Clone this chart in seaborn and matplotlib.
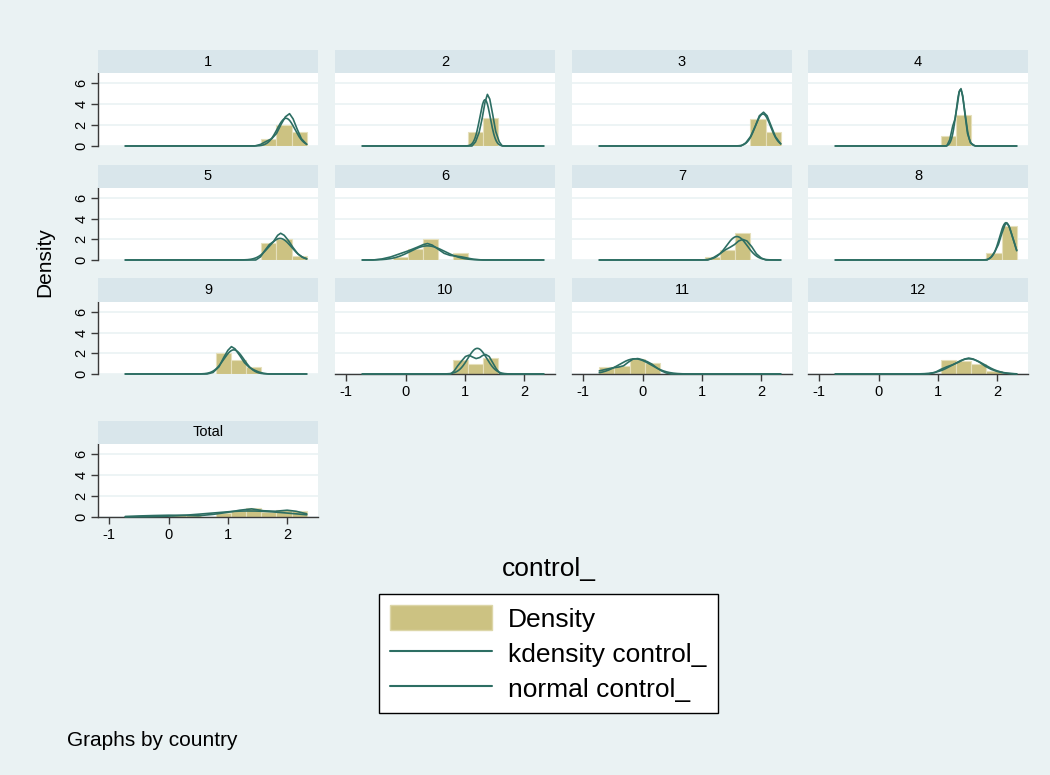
import numpy as np
import pandas as pd
import matplotlib
matplotlib.use("Agg")
import matplotlib.pyplot as plt
import seaborn as sns
from matplotlib.patches import Patch
from matplotlib.lines import Line2D

sns.set_theme(style="white")
plt.rcParams["font.family"] = ["Liberation Sans", "DejaVu Sans"]

# ---------------------------------------------------------------- data
panel_labels = ["1", "2", "3", "4", "5", "6", "7", "8", "9", "10", "11", "12", "Total"]

# common histogram bins for control_
bin_edges = [-0.73, -0.475, -0.22, 0.035, 0.29, 0.545, 0.80,
             1.055, 1.31, 1.565, 1.82, 2.075, 2.33]

# histogram densities per country (one value per bin)
hist_1 = [0, 0, 0, 0, 0, 0, 0, 0, 0, 0.70, 2.00, 1.35]
hist_2 = [0, 0, 0, 0, 0, 0, 0, 1.35, 2.66, 0, 0, 0]
hist_3 = [0, 0, 0, 0, 0, 0, 0, 0, 0, 0, 2.63, 1.35]
hist_4 = [0, 0, 0, 0, 0, 0, 0, 1.00, 2.95, 0, 0, 0]
hist_5 = [0, 0, 0, 0, 0, 0, 0, 0, 0, 1.70, 2.00, 0.35]
hist_6 = [0, 0, 0.25, 1.06, 2.00, 0, 0.70, 0, 0, 0, 0, 0]
hist_7 = [0, 0, 0, 0, 0, 0, 0, 0.30, 1.00, 2.65, 0, 0]
hist_8 = [0, 0, 0, 0, 0, 0, 0, 0, 0, 0, 0.70, 3.27]
hist_9 = [0, 0, 0, 0, 0, 0, 2.00, 1.35, 0.64, 0, 0, 0]
hist_10 = [0, 0, 0, 0, 0, 0, 1.35, 0.96, 1.60, 0, 0, 0]
hist_11 = [0.70, 0.75, 1.45, 1.05, 0, 0, 0, 0, 0, 0, 0, 0]
hist_12 = [0, 0, 0, 0, 0, 0, 0, 1.40, 1.25, 1.00, 0.27, 0]
hist_total = [0.06, 0.06, 0.14, 0.18, 0.17, 0, 0.34, 0.53, 0.84, 0.50, 0.63, 0.53]

# kernel density estimates (x, density)
kde_1_x = [-0.73, 1.45, 1.55, 1.65, 1.74, 1.82, 1.90, 1.97, 2.04, 2.10, 2.17, 2.24, 2.33]
kde_1_y = [0, 0, 0.15, 0.45, 0.70, 1.20, 2.10, 2.80, 3.10, 2.60, 1.60, 0.70, 0.15]
kde_2_x = [-0.73, 1.12, 1.18, 1.24, 1.29, 1.34, 1.38, 1.42, 1.47, 1.52, 1.58, 1.63, 2.33]
kde_2_y = [0, 0, 0.40, 1.30, 2.60, 4.20, 4.95, 4.50, 3.00, 1.40, 0.40, 0, 0]
kde_3_x = [-0.73, 1.66, 1.74, 1.82, 1.90, 1.97, 2.04, 2.10, 2.17, 2.24, 2.33]
kde_3_y = [0, 0, 0.30, 0.90, 1.90, 2.90, 3.24, 2.90, 1.90, 0.90, 0.20]
kde_4_x = [-0.73, 1.15, 1.20, 1.25, 1.29, 1.33, 1.36, 1.39, 1.42, 1.46, 1.50, 1.55, 1.63, 2.33]
kde_4_y = [0, 0, 0.60, 1.90, 2.60, 4.00, 5.20, 5.50, 4.80, 2.90, 1.20, 0.30, 0, 0]
kde_5_x = [-0.73, 1.47, 1.55, 1.62, 1.70, 1.77, 1.84, 1.89, 1.95, 2.02, 2.10, 2.18, 2.26, 2.33]
kde_5_y = [0, 0, 0.30, 0.90, 1.50, 1.80, 2.40, 2.60, 2.40, 1.90, 1.20, 0.60, 0.25, 0.10]
kde_6_x = [-0.73, -0.55, -0.40, -0.25, -0.10, 0.05, 0.20, 0.30, 0.37, 0.45, 0.55,
           0.65, 0.75, 0.85, 0.95, 1.05, 1.15, 1.30, 2.33]
kde_6_y = [0, 0, 0.10, 0.30, 0.60, 0.90, 1.25, 1.50, 1.60, 1.45, 1.05,
           0.65, 0.45, 0.38, 0.30, 0.18, 0.07, 0, 0]
kde_7_x = [-0.73, 1.10, 1.20, 1.30, 1.40, 1.48, 1.55, 1.62, 1.69, 1.76, 1.84, 1.92, 2.00, 2.08, 2.33]
kde_7_y = [0, 0, 0.25, 0.60, 1.00, 1.25, 1.50, 1.85, 2.00, 1.85, 1.30, 0.60, 0.20, 0, 0]
kde_8_x = [-0.73, 1.83, 1.90, 1.96, 2.02, 2.08, 2.13, 2.16, 2.20, 2.25, 2.30, 2.33]
kde_8_y = [0, 0, 0.30, 0.80, 1.50, 2.60, 3.40, 3.60, 3.30, 2.40, 1.50, 0.90]
kde_9_x = [-0.73, 0.65, 0.75, 0.85, 0.93, 1.00, 1.06, 1.12, 1.20, 1.28, 1.36, 1.44, 1.52, 1.60, 1.69, 2.33]
kde_9_y = [0, 0, 0.15, 0.70, 1.60, 2.30, 2.66, 2.45, 1.80, 1.10, 0.65, 0.40, 0.20, 0.07, 0, 0]
kde_10_x = [-0.73, 0.76, 0.82, 0.88, 0.95, 1.01, 1.07, 1.13, 1.19, 1.25, 1.30, 1.35,
            1.41, 1.47, 1.53, 1.60, 2.33]
kde_10_y = [0, 0, 0.30, 0.80, 1.30, 1.70, 1.83, 1.65, 1.50, 1.60, 1.80, 1.90,
            1.70, 1.10, 0.50, 0, 0]
kde_11_x = [-0.73, -0.62, -0.50, -0.40, -0.32, -0.24, -0.16, -0.08, 0.00, 0.08, 0.16,
            0.24, 0.32, 0.40, 0.48, 2.33]
kde_11_y = [0.30, 0.45, 0.60, 0.68, 0.80, 1.15, 1.45, 1.50, 1.38, 1.20, 0.95,
            0.60, 0.30, 0.10, 0, 0]
kde_12_x = [-0.73, 0.84, 0.95, 1.05, 1.15, 1.25, 1.35, 1.45, 1.52, 1.60, 1.70, 1.80,
            1.90, 2.00, 2.10, 2.20, 2.33]
kde_12_y = [0, 0, 0.15, 0.45, 0.70, 0.90, 1.15, 1.45, 1.55, 1.45, 1.15, 0.75,
            0.45, 0.25, 0.12, 0.05, 0]
kde_total_x = [-0.73, -0.50, -0.25, 0.00, 0.25, 0.50, 0.75, 1.00, 1.20, 1.40, 1.60,
               1.80, 2.00, 2.15, 2.33]
kde_total_y = [0.05, 0.10, 0.14, 0.17, 0.16, 0.12, 0.25, 0.45, 0.65, 0.78, 0.60,
               0.55, 0.65, 0.55, 0.30]

# normal overlay parameters (mean, sd) per country
normal_mean = [1.98, 1.34, 2.03, 1.38, 1.88, 0.37, 1.59, 2.15, 1.10, 1.21, -0.13, 1.52, 1.36]
normal_sd = [0.150, 0.090, 0.130, 0.074, 0.190, 0.290, 0.175, 0.110, 0.170, 0.160, 0.270, 0.270, 0.690]

y_ticks = [0, 2, 4, 6]
x_ticks = [-1, 0, 1, 2]

hists = [hist_1, hist_2, hist_3, hist_4, hist_5, hist_6, hist_7, hist_8,
         hist_9, hist_10, hist_11, hist_12, hist_total]
kdes = [(kde_1_x, kde_1_y), (kde_2_x, kde_2_y), (kde_3_x, kde_3_y), (kde_4_x, kde_4_y),
        (kde_5_x, kde_5_y), (kde_6_x, kde_6_y), (kde_7_x, kde_7_y), (kde_8_x, kde_8_y),
        (kde_9_x, kde_9_y), (kde_10_x, kde_10_y), (kde_11_x, kde_11_y),
        (kde_12_x, kde_12_y), (kde_total_x, kde_total_y)]

# ---------------------------------------------------------------- style
BG = "#eaf2f3"
STRIP = "#d9e6eb"
BAR = "#ccc282"
BAR_EDGE = "#e6e0bc"
LINE = "#2d6e63"
AXIS = "#3a3a3a"

W, H = 1050, 775
fig = plt.figure(figsize=(W / 100, H / 100), dpi=100, facecolor=BG)

col_left = [98, 335, 572, 808]
panel_w = 220
# (strip top, strip bottom / plot top, plot bottom) in pixels
rows = [(50, 73, 146), (165, 188, 260), (278, 302, 374), (421, 444, 517)]

edges = list(bin_edges)
centers = [(a + b) / 2 for a, b in zip(bin_edges[:-1], bin_edges[1:])]
grid = np.linspace(bin_edges[0], bin_edges[-1], 400)

bottom_panels = {9, 10, 11, 12}

for i, label in enumerate(panel_labels):
    r, c = divmod(i, 4)
    s_top, p_top, p_bot = rows[r]
    left = col_left[c] / W
    ax = fig.add_axes([left, 1 - p_bot / H, panel_w / W, (p_bot - p_top) / H])
    ax.set_facecolor("white")

    hist_df = pd.DataFrame({"value": centers, "density": hists[i]})
    sns.histplot(data=hist_df, x="value", weights="density", bins=edges, stat="count",
                 ax=ax, color=BAR, alpha=1, edgecolor=BAR_EDGE, linewidth=0.8, zorder=2)

    kx, ky = kdes[i]
    sns.lineplot(x=kx, y=ky, ax=ax, color=LINE, linewidth=1.2, clip_on=False, zorder=3)
    mu, sd = normal_mean[i], normal_sd[i]
    dens = np.exp(-0.5 * ((grid - mu) / sd) ** 2) / (sd * np.sqrt(2 * np.pi))
    sns.lineplot(x=grid, y=dens, ax=ax, color=LINE, linewidth=1.2, clip_on=False, zorder=3)

    ax.set_xlim(-1.19, 2.52)
    ax.set_ylim(0, 7.0)
    ax.set_xlabel("")
    ax.set_ylabel("")
    ax.set_yticks(y_ticks)
    ax.yaxis.grid(True, color=BG, linewidth=1.2, zorder=0)
    ax.set_axisbelow(True)
    for sp in ax.spines.values():
        sp.set_visible(False)

    if c == 0:
        ax.spines["left"].set_visible(True)
        ax.spines["left"].set_color(AXIS)
        ax.spines["left"].set_linewidth(1.0)
        ax.tick_params(axis="y", left=True, length=5, width=1, color=AXIS,
                       labelsize=10.5, pad=2, labelcolor="black")
        ax.set_yticklabels([str(t) for t in y_ticks], rotation=90, va="center")
    else:
        ax.tick_params(axis="y", left=False, labelleft=False)

    if i in bottom_panels:
        ax.set_xticks(x_ticks)
        ax.set_xticklabels([str(t) for t in x_ticks])
        ax.spines["bottom"].set_visible(True)
        ax.spines["bottom"].set_color(AXIS)
        ax.spines["bottom"].set_linewidth(1.0)
        ax.tick_params(axis="x", bottom=True, length=5, width=1, color=AXIS,
                       labelsize=10.5, pad=3, labelcolor="black")
    else:
        ax.set_xticks([])

    # strip title band
    sax = fig.add_axes([left, 1 - p_top / H, panel_w / W, (p_top - s_top) / H])
    sax.set_facecolor(STRIP)
    sax.set_xticks([])
    sax.set_yticks([])
    for sp in sax.spines.values():
        sp.set_visible(False)
    sax.text(0.5, 0.5, label, ha="center", va="center", fontsize=10.5,
             color="black", transform=sax.transAxes)

fig.text(45 / W, 1 - 262 / H, "Density", rotation=90, ha="center", va="center",
         fontsize=15, color="black")
fig.text(549 / W, 1 - 569 / H, "control_", ha="center", va="center",
         fontsize=19, color="black")
fig.text(67 / W, 1 - 740 / H, "Graphs by country", ha="left", va="center",
         fontsize=15, color="black")

handles = [Patch(facecolor=BAR, edgecolor="#dcd6a8", linewidth=1.0),
           Line2D([0], [0], color=LINE, linewidth=1.5),
           Line2D([0], [0], color=LINE, linewidth=1.5)]
labels = ["Density", "kdensity control_", "normal control_"]
leg = fig.legend(handles, labels, loc="center", bbox_to_anchor=(548.5 / W, 1 - 653.5 / H),
                 frameon=True, fancybox=False, edgecolor="black", facecolor="white",
                 framealpha=1, fontsize=19, labelcolor="black", handlelength=3.86,
                 handleheight=1.06, labelspacing=0.33, borderpad=0.42, handletextpad=0.6,
                 borderaxespad=0)
leg.get_frame().set_linewidth(1.0)

fig.savefig("out.png", dpi=100, facecolor=BG)
